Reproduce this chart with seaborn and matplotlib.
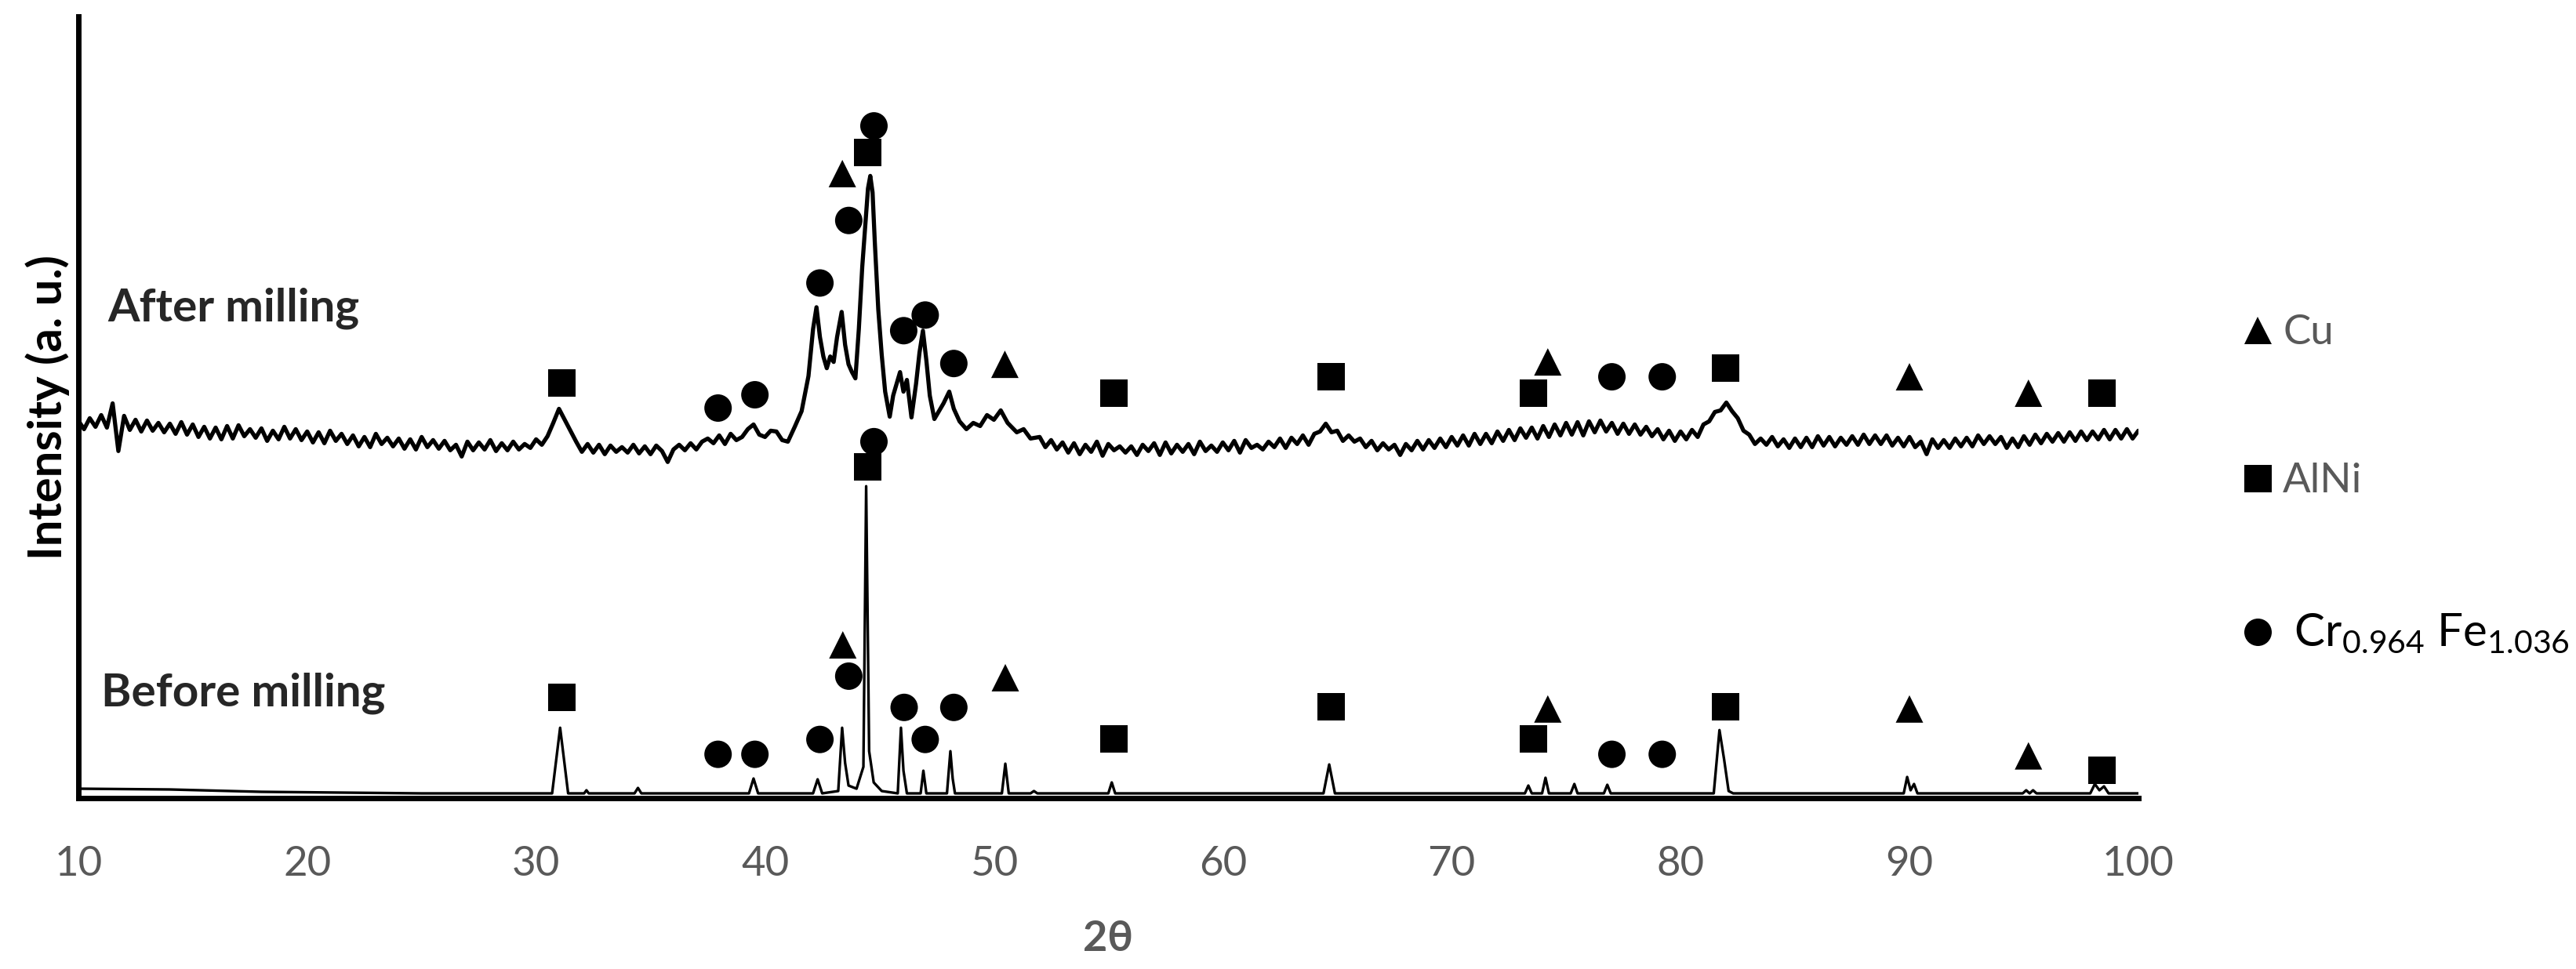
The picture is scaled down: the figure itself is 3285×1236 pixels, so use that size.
import matplotlib
matplotlib.use("Agg")
import matplotlib.pyplot as plt
import seaborn as sns
import pandas as pd

# x axis
two_theta_ticks = [10, 20, 30, 40, 50, 60, 70, 80, 90, 100]

# phases (legend order)
phase_order = ["Cu", "AlNi", "CrFe"]
phase_labels = ["Cu", "AlNi", r" Cr$_{0.964}$ Fe$_{1.036}$"]
phase_markers = {"Cu": "^", "AlNi": "s", "CrFe": "o"}

# after milling pattern (offset, arbitrary units)
after_x = [
    10.0, 10.25, 10.5, 10.75, 11.0, 11.25, 11.5, 11.75,
    12.0, 12.25, 12.5, 12.75, 13.0, 13.25, 13.5, 13.75,
    14.0, 14.25, 14.5, 14.75, 15.0, 15.25, 15.5, 15.75,
    16.0, 16.25, 16.5, 16.75, 17.0, 17.25, 17.5, 17.75,
    18.0, 18.25, 18.5, 18.75, 19.0, 19.25, 19.5, 19.75,
    20.0, 20.25, 20.5, 20.75, 21.0, 21.25, 21.5, 21.75,
    22.0, 22.25, 22.5, 22.75, 23.0, 23.25, 23.5, 23.75,
    24.0, 24.25, 24.5, 24.75, 25.0, 25.25, 25.5, 25.75,
    26.0, 26.25, 26.5, 26.75, 27.0, 27.25, 27.5, 27.75,
    28.0, 28.25, 28.5, 28.75, 29.0, 29.25, 29.5, 29.75,
    30.0, 30.25, 30.5, 30.75, 31.0, 31.25, 31.5, 31.75,
    32.0, 32.25, 32.5, 32.75, 33.0, 33.25, 33.5, 33.75,
    34.0, 34.25, 34.5, 34.75, 35.0, 35.25, 35.5, 35.75,
    36.0, 36.25, 36.5, 36.75, 37.0, 37.25, 37.5, 37.75,
    38.0, 38.25, 38.5, 38.75, 39.0, 39.25, 39.5, 39.75,
    40.0, 40.25, 40.5, 40.75, 41.0,
    41.3, 41.6, 41.9, 42.1, 42.25, 42.4, 42.55, 42.7, 42.85, 43.0,
    43.15, 43.35, 43.5, 43.65, 43.8, 43.95, 44.1, 44.25, 44.4, 44.5,
    44.6, 44.7, 44.8, 44.95, 45.1, 45.25, 45.45, 45.6, 45.75, 45.9,
    46.05, 46.2, 46.4, 46.6, 46.75, 46.9, 47.05, 47.2, 47.4, 47.6,
    47.8, 48.05, 48.25, 48.5, 48.8, 49.1, 49.4, 49.7, 50.0, 50.3,
    50.6, 51.0, 51.3, 51.6,
    52.0, 52.25, 52.5, 52.75, 53.0, 53.25, 53.5, 53.75,
    54.0, 54.25, 54.5, 54.75, 55.0, 55.25, 55.5, 55.75,
    56.0, 56.25, 56.5, 56.75, 57.0, 57.25, 57.5, 57.75,
    58.0, 58.25, 58.5, 58.75, 59.0, 59.25, 59.5, 59.75,
    60.0, 60.25, 60.5, 60.75, 61.0, 61.25, 61.5, 61.75,
    62.0, 62.25, 62.5, 62.75, 63.0, 63.25, 63.5, 63.75,
    64.0, 64.25, 64.5, 64.75, 65.0, 65.25, 65.5, 65.75,
    66.0, 66.25, 66.5, 66.75, 67.0, 67.25, 67.5, 67.75,
    68.0, 68.25, 68.5, 68.75, 69.0, 69.25, 69.5, 69.75,
    70.0, 70.25, 70.5, 70.75, 71.0, 71.25, 71.5, 71.75,
    72.0, 72.25, 72.5, 72.75, 73.0, 73.25, 73.5, 73.75,
    74.0, 74.25, 74.5, 74.75, 75.0, 75.25, 75.5, 75.75,
    76.0, 76.25, 76.5, 76.75, 77.0, 77.25, 77.5, 77.75,
    78.0, 78.25, 78.5, 78.75, 79.0, 79.25, 79.5, 79.75,
    80.0, 80.25, 80.5, 80.75, 81.0, 81.25, 81.5, 81.75,
    82.0, 82.25, 82.5, 82.75, 83.0, 83.25, 83.5, 83.75,
    84.0, 84.25, 84.5, 84.75, 85.0, 85.25, 85.5, 85.75,
    86.0, 86.25, 86.5, 86.75, 87.0, 87.25, 87.5, 87.75,
    88.0, 88.25, 88.5, 88.75, 89.0, 89.25, 89.5, 89.75,
    90.0, 90.25, 90.5, 90.75, 91.0, 91.25, 91.5, 91.75,
    92.0, 92.25, 92.5, 92.75, 93.0, 93.25, 93.5, 93.75,
    94.0, 94.25, 94.5, 94.75, 95.0, 95.25, 95.5, 95.75,
    96.0, 96.25, 96.5, 96.75, 97.0, 97.25, 97.5, 97.75,
    98.0, 98.25, 98.5, 98.75, 99.0, 99.25, 99.5, 99.75,
    100.0,
]
after_y = [
    48.3, 47.2, 48.6, 47.5, 49.0, 47.4, 50.5, 44.4,
    48.9, 47.1, 48.4, 46.9, 48.3, 47.0, 48.0, 46.8,
    47.9, 46.6, 48.1, 46.5, 47.8, 46.2, 47.5, 46.0,
    47.4, 45.9, 47.6, 46.0, 47.7, 46.3, 47.2, 46.1,
    47.3, 45.7, 47.0, 45.9, 47.5, 46.0, 47.2, 45.8,
    46.9, 45.5, 46.8, 45.4, 47.0, 45.7, 46.6, 45.3,
    46.4, 45.0, 46.2, 44.9, 46.6, 45.3, 46.1, 45.0,
    46.0, 44.7, 45.9, 44.6, 46.2, 44.9, 45.8, 44.7,
    45.7, 44.5, 45.2, 43.7, 45.6, 44.5, 45.5, 44.6,
    45.8, 44.4, 45.4, 44.5, 45.6, 44.6, 45.3, 44.8,
    45.9, 45.2, 46.3, 48.0, 49.8, 48.4, 47.0, 45.6,
    44.3, 45.3, 44.2, 45.2, 44.0, 45.1, 44.3, 44.9,
    44.2, 45.2, 44.1, 45.0, 44.0, 45.1, 44.4, 43.0,
    44.6, 45.2, 44.5, 45.4, 44.6, 45.6, 46.0, 45.4,
    46.4, 45.3, 46.6, 45.8, 46.2, 47.2, 47.8, 46.5,
    46.2, 47.0, 46.9, 45.8, 45.6,
    47.5, 49.5, 54.0, 60.0, 62.8, 59.0, 56.5, 55.0, 56.5, 55.8,
    59.0, 62.2, 58.0, 55.5, 54.5, 53.7, 60.0, 68.0, 74.0, 78.0,
    79.6, 77.5, 71.0, 62.5, 56.7, 52.0, 48.8, 51.5, 53.0, 54.5,
    52.0, 53.5, 48.7, 53.0, 57.0, 59.8, 56.0, 51.5, 48.5, 49.5,
    50.5, 52.0, 49.8, 48.2, 47.2, 48.0, 47.6, 49.0, 48.4, 49.6,
    48.0, 46.8, 47.2, 46.0,
    46.2, 44.9, 45.8, 44.6, 45.5, 44.2, 45.4, 44.0,
    45.2, 44.3, 45.6, 43.8, 45.3, 44.5, 45.0, 44.2,
    45.0, 43.9, 45.2, 44.4, 45.4, 43.9, 45.5, 44.1,
    45.2, 44.3, 45.3, 44.0, 45.6, 44.4, 45.1, 44.3,
    45.5, 44.5, 45.7, 44.2, 45.8, 44.8, 45.2, 44.6,
    45.6, 44.9, 46.0, 44.8, 46.1, 45.3, 46.4, 45.2,
    46.6, 46.9, 47.9, 46.8, 47.0, 45.7, 46.4, 45.6,
    46.0, 44.9, 45.7, 44.5, 45.4, 44.6, 45.2, 43.9,
    45.3, 44.5, 45.7, 44.6, 45.8, 44.8, 46.0, 44.9,
    46.2, 45.1, 46.4, 45.1, 46.6, 45.3, 46.6, 45.4,
    46.9, 45.7, 47.1, 45.8, 47.3, 46.1, 47.4, 46.0,
    47.6, 46.2, 47.8, 46.4, 48.0, 46.5, 48.1, 46.4,
    48.2, 46.8, 48.3, 46.9, 48.0, 46.6, 47.9, 46.6,
    47.8, 46.5, 47.5, 46.3, 47.2, 45.9, 47.0, 45.7,
    46.9, 45.9, 47.1, 46.2, 47.8, 48.2, 49.4, 49.6,
    50.6, 49.5, 48.6, 47.0, 46.5, 45.3, 46.0, 45.2,
    46.2, 45.0, 45.9, 44.8, 46.0, 44.9, 46.1, 44.9,
    46.3, 45.1, 46.2, 45.0, 46.1, 45.2, 46.3, 45.2,
    46.5, 45.3, 46.4, 45.3, 46.4, 45.1, 46.1, 45.0,
    46.2, 44.9, 45.6, 44.0, 45.9, 44.8, 45.8, 44.8,
    46.0, 45.0, 46.1, 45.0, 46.4, 45.3, 46.3, 45.3,
    46.2, 44.8, 46.0, 44.9, 46.3, 45.2, 46.5, 45.4,
    46.6, 45.6, 46.7, 45.6, 46.8, 45.7, 46.9, 45.8,
    46.9, 45.9, 47.1, 45.9, 47.1, 46.0, 47.2, 46.0,
    47.0,
]

# before milling pattern
before_x = [
    10.0, 14.0, 18.0, 25.0, 30.7, 31.05, 31.4,
    32.1, 32.2, 32.3, 34.3, 34.45, 34.6, 39.3, 39.5, 39.7,
    42.1, 42.3, 42.5, 43.2, 43.37, 43.5, 43.65, 44.0, 44.3, 44.42,
    44.55, 44.75, 45.1, 45.8, 45.94, 46.05, 46.2, 46.8, 46.92, 47.05,
    47.95, 48.1, 48.2, 48.3, 50.35, 50.5, 50.65, 51.6, 51.75, 51.9,
    55.0, 55.15, 55.3, 64.4, 64.65, 64.9, 73.2, 73.35, 73.5,
    73.95, 74.1, 74.25, 75.2, 75.36, 75.5, 76.65, 76.8, 76.95,
    81.45, 81.7, 81.9, 82.1, 82.3, 89.75, 89.9, 90.05, 90.2, 90.35,
    94.95, 95.1, 95.25, 95.4, 95.55, 97.9, 98.1, 98.3, 98.5, 98.7, 100.0,
]
before_y = [
    1.2, 1.1, 0.8, 0.6, 0.6, 9.0, 0.6,
    0.6, 1.0, 0.6, 0.6, 1.3, 0.6, 0.6, 2.5, 0.6,
    0.6, 2.4, 0.6, 0.9, 9.0, 4.5, 1.6, 1.2, 4.0, 39.9,
    6.0, 2.0, 0.9, 0.6, 9.0, 3.5, 0.6, 0.6, 3.5, 0.6,
    0.6, 6.0, 2.5, 0.6, 0.6, 4.4, 0.6, 0.6, 0.9, 0.6,
    0.6, 2.0, 0.6, 0.6, 4.3, 0.6, 0.6, 1.6, 0.6,
    0.6, 2.6, 0.6, 0.6, 1.8, 0.6, 0.6, 1.7, 0.6,
    0.6, 8.7, 5.0, 0.9, 0.6, 0.6, 2.7, 1.0, 1.8, 0.6,
    0.6, 1.0, 0.6, 1.0, 0.6, 0.6, 1.8, 1.0, 1.5, 0.6, 0.6,
]

# phase markers above the peaks
after_mark_x = [31.12, 37.95, 39.56, 42.4, 43.38, 43.66, 44.5, 44.76, 46.06, 47.0, 48.25,
                50.48, 55.24, 64.75, 73.56, 74.2, 77.0, 79.2, 81.95, 90.0, 95.2, 98.4]
after_mark_y = [53.1, 49.9, 51.6, 65.9, 79.9, 73.9, 82.6, 86.0, 59.8, 61.8, 55.6,
                55.5, 51.8, 53.9, 51.8, 55.8, 53.9, 53.9, 55.0, 53.9, 51.8, 51.8]
after_mark_phase = ["AlNi", "CrFe", "CrFe", "CrFe", "Cu", "CrFe", "AlNi", "CrFe", "CrFe", "CrFe", "CrFe",
                    "Cu", "AlNi", "AlNi", "AlNi", "Cu", "CrFe", "CrFe", "AlNi", "Cu", "Cu", "AlNi"]

before_mark_x = [31.12, 37.95, 39.56, 42.4, 43.4, 43.66, 44.5, 44.76, 46.08, 47.0, 48.25,
                 50.5, 55.24, 64.75, 73.56, 74.2, 77.0, 79.2, 81.95, 90.0, 95.2, 98.4]
before_mark_y = [12.9, 5.6, 5.6, 7.5, 19.6, 15.6, 42.4, 45.6, 11.6, 7.5, 11.6,
                 15.4, 7.55, 11.7, 7.55, 11.4, 5.6, 5.6, 11.7, 11.4, 5.4, 3.6]
before_mark_phase = ["AlNi", "CrFe", "CrFe", "CrFe", "Cu", "CrFe", "AlNi", "CrFe", "CrFe", "CrFe", "CrFe",
                     "Cu", "AlNi", "AlNi", "AlNi", "Cu", "CrFe", "CrFe", "AlNi", "Cu", "Cu", "AlNi"]

marks = pd.DataFrame({
    "two_theta": after_mark_x + before_mark_x,
    "intensity": after_mark_y + before_mark_y,
    "phase": after_mark_phase + before_mark_phase,
})

sns.set_style("white")
plt.rcParams["font.family"] = ["Lato", "DejaVu Sans"]
plt.rcParams["mathtext.default"] = "regular"

GREY = "#595959"

fig = plt.figure(figsize=(32.85, 12.36), dpi=100)
ax = fig.add_axes([0.0304, 0.1764, 0.7997, 0.8066])

sns.lineplot(x=after_x, y=after_y, color="black", lw=3.8, estimator=None, ax=ax)
sns.lineplot(x=before_x, y=before_y, color="black", lw=2.4, estimator=None, ax=ax)
sns.scatterplot(data=marks, x="two_theta", y="intensity", style="phase",
                style_order=phase_order, markers=phase_markers, color="black",
                s=635, linewidth=0, zorder=3, ax=ax)

ax.set_xlim(10, 100)
ax.set_ylim(0, 100)
ax.set_xticks(two_theta_ticks)
ax.set_yticks([])
ax.tick_params(axis="x", length=0, pad=44, labelsize=38, labelcolor=GREY)
ax.set_xlabel("2θ", fontsize=39, fontweight="bold", color=GREY, labelpad=34)
ax.set_ylabel("Intensity (a. u.)", fontsize=43, fontweight="bold", color="black", labelpad=8)

for side in ["top", "right"]:
    ax.spines[side].set_visible(False)
for side in ["left", "bottom"]:
    ax.spines[side].set_color("black")
    ax.spines[side].set_linewidth(5)

ax.text(11.3, 61.0, "After milling", fontsize=42, fontweight="bold", va="baseline")
ax.text(11.0, 11.8, "Before milling", fontsize=42, fontweight="bold", va="baseline")

sns.move_legend(ax, "center left", bbox_to_anchor=(0.8602, 0.500),
                bbox_transform=fig.transFigure, title=None, frameon=False,
                fontsize=38, handlelength=1.0, handletextpad=0.12,
                labelspacing=2.7, borderpad=0)
leg = ax.get_legend()
for h in leg.legend_handles:
    if hasattr(h, "set_sizes"):
        h.set_sizes([635])
    else:
        h.set_markersize(25.2)
        h.set_color("black")
for t, lab in zip(leg.get_texts(), phase_labels):
    t.set_text(lab)
    t.set_color(GREY)
leg.get_texts()[2].set_color("black")
leg.get_texts()[2].set_fontsize(42)

fig.savefig("out.png", dpi=100)
